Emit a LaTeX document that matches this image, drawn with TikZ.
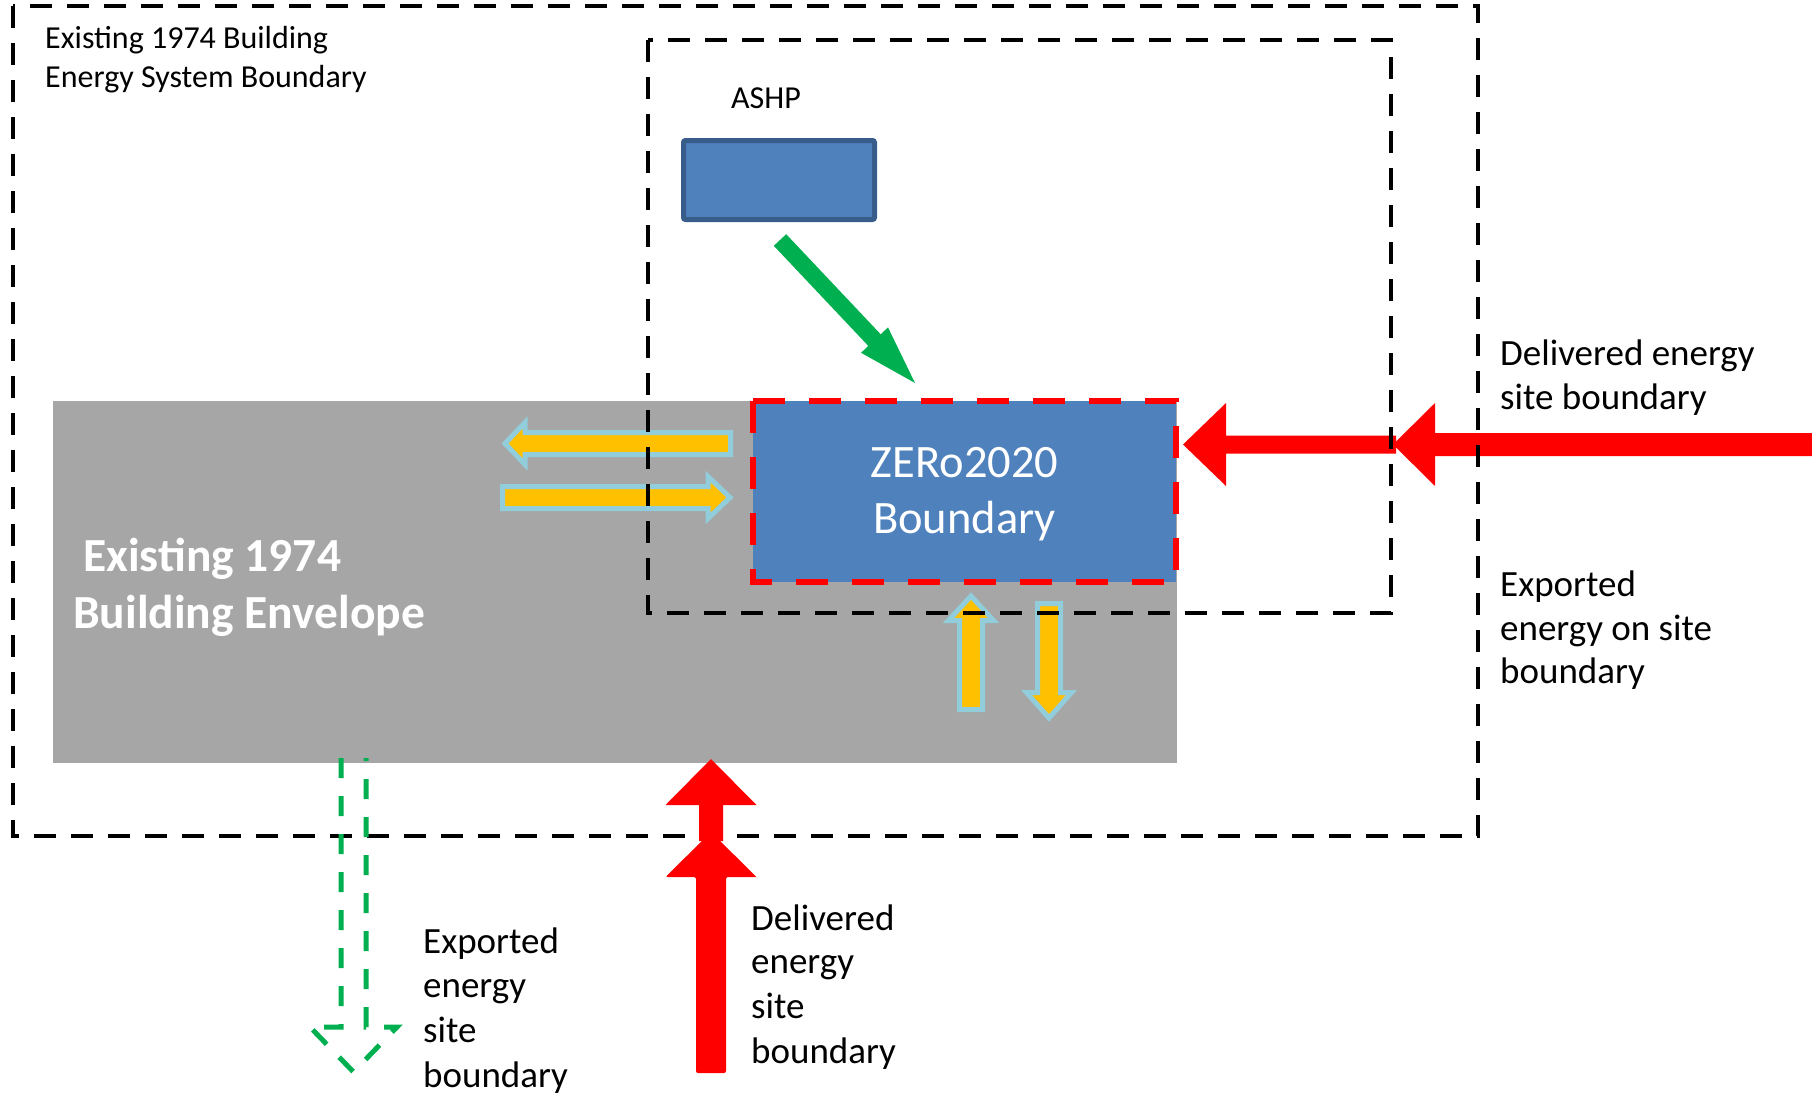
\documentclass[tikz,border=0pt]{standalone}
\usepackage{fontspec}
\setmainfont{Carlito}
\definecolor{envgray}{HTML}{A6A6A6}
\definecolor{zblue}{HTML}{4F81BD}
\definecolor{ashpedge}{HTML}{385D8A}
\definecolor{arrowyellow}{HTML}{FFC000}
\definecolor{arrowedge}{HTML}{92CDDC}
\definecolor{arrowred}{HTML}{FF0000}
\definecolor{arrowgreen}{HTML}{00B050}
\tikzset{
  blackdash/.style={draw=black, line width=4.5pt, dash pattern=on 22pt off 15pt},
  zerodash/.style={draw=arrowred, line width=6pt, dash pattern=on 32pt off 24pt},
  yarrow/.style={fill=arrowyellow, draw=arrowedge, line width=5pt, line join=miter},
  redarrow/.style={fill=arrowred, draw=none},
  greenarrow/.style={fill=arrowgreen, draw=none},
  greendash/.style={draw=arrowgreen, line width=5pt, dash pattern=on 20pt off 18pt},
  smalltxt/.style={font=\fontsize{32}{38}\selectfont, inner sep=0pt, anchor=base west},
  bigtxt/.style={font=\fontsize{37}{44}\selectfont, inner sep=0pt, anchor=base west},
  ztxt/.style={font=\fontsize{46.5}{54}\selectfont, text=white, inner sep=0pt, anchor=base},
  envtxt/.style={font=\bfseries\fontsize{47.5}{57}\selectfont, text=white, inner sep=0pt, anchor=base west},
}
\begin{document}
\begin{tikzpicture}[x=1pt,y=-1pt]
\useasboundingbox (0,0) rectangle (1812,1095);

% building envelope
\fill[envgray] (53,401) rectangle (1177,763);

% red arrow from right (drawn below dashed boxes)
\path[redarrow] (1226,435.5) -- (1396,435.5) -- (1396,453.5) -- (1226,453.5)
   -- (1226,486) -- (1183,444.5) -- (1226,403) -- cycle;
\path[redarrow] (1812,433) -- (1435,433) -- (1435,403) -- (1393,444.5)
   -- (1435,486) -- (1435,456) -- (1812,456) -- cycle;

% yellow arrows
\path[yarrow] (730.5,432.5) -- (525,432.5) -- (525,422.5) -- (505,443.5)
   -- (525,464.5) -- (525,454.5) -- (730.5,454.5) -- cycle;
\path[yarrow] (502.5,486.5) -- (708,486.5) -- (708,476.5) -- (730,497.5)
   -- (708,518.5) -- (708,508.5) -- (502.5,508.5) -- cycle;
\path[yarrow] (959.5,709.5) -- (959.5,620.5) -- (948.5,620.5) -- (971,596)
   -- (993.5,620.5) -- (982.5,620.5) -- (982.5,709.5) -- cycle;
\path[yarrow] (1037.5,603.5) -- (1037.5,692.5) -- (1026.5,692.5) -- (1049,718)
   -- (1071.5,692.5) -- (1060.5,692.5) -- (1060.5,603.5) -- cycle;

% dashed system boundaries
\draw[blackdash] (13,6) rectangle (1478,836);
\draw[blackdash] (648,40) rectangle (1391,613);

% ZERo2020 boundary
\fill[zblue] (753,401) rectangle (1176,582);
\draw[zerodash] (753,401) rectangle (1176,582);

% ASHP unit
\draw[fill=zblue, draw=ashpedge, line width=5pt, rounded corners=2pt] (683.5,140.5) rectangle (874.5,219.5);

% green arrow ASHP -> ZERo
\path[greenarrow] (773.8,245.8) -- (868.3,345.9) -- (861.1,352.8) -- (915,383)
   -- (888,327.4) -- (880.7,334.3) -- (786.2,234.2) -- cycle;

% red arrow from below
\path[redarrow] (699,841) -- (699,805) -- (665.5,805) -- (711,759) -- (756.5,805)
   -- (723,805) -- (723,841) -- cycle;
\path[redarrow, rounded corners=2pt] (696,1073) -- (696,877) -- (665.5,877) [sharp corners] -- (711,832)
   -- (756.5,877) [rounded corners=2pt] -- (726,877) -- (726,1073) -- cycle;

% green dashed exported arrow
\draw[greendash] (341,758) -- (341,1027) -- (310,1027) -- (353.5,1072)
   -- (397,1027) -- (366,1027) -- (366,758);

% texts
\node[smalltxt] (title1) at (45,48) {Existing 1974 Building};
\node[smalltxt] (title2) at (45,87) {Energy System Boundary};
\node[smalltxt] (ashplbl) at (731,108) {ASHP};
\node[ztxt] (z1) at (964.5,477) {ZERo2020};
\node[ztxt] (z2) at (964.5,533) {Boundary};
\node[envtxt] (env1) at (83,571) {Existing 1974};
\node[envtxt] (env2) at (73,628) {Building Envelope};
\node[bigtxt] (rd1) at (1500,365) {Delivered energy};
\node[bigtxt] (rd2) at (1500,409) {site boundary};
\node[bigtxt] (re1) at (1500,596) {Exported};
\node[bigtxt] (re2) at (1500,640) {energy on site};
\node[bigtxt] (re3) at (1500,683) {boundary};
\node[bigtxt] (be1) at (423,953) {Exported};
\node[bigtxt] (be2) at (423,997) {energy};
\node[bigtxt] (be3) at (423,1042) {site};
\node[bigtxt] (be4) at (423,1087) {boundary};
\node[bigtxt] (bd1) at (751,930) {Delivered};
\node[bigtxt] (bd2) at (751,973) {energy};
\node[bigtxt] (bd3) at (751,1018) {site};
\node[bigtxt] (bd4) at (751,1063) {boundary};
\end{tikzpicture}
\end{document}
